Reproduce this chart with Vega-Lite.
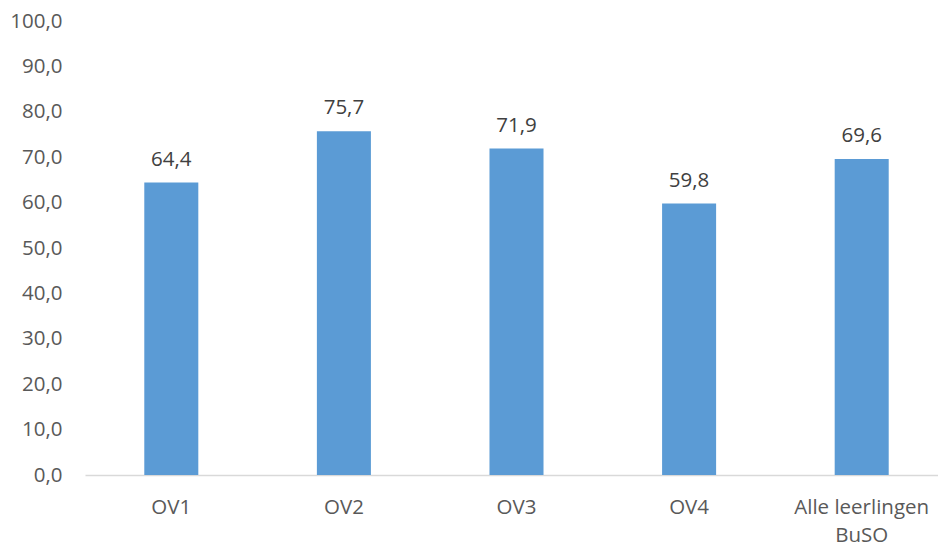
{
  "$schema": "https://vega.github.io/schema/vega-lite/v6.json",
  "autosize": "none",
  "padding": {"left": 85, "top": 21, "right": 0, "bottom": 73},
  "width": 863,
  "height": 454,
  "data": {"values": [
    {"groep": "OV1", "waarde": 64.4},
    {"groep": "OV2", "waarde": 75.7},
    {"groep": "OV3", "waarde": 71.9},
    {"groep": "OV4", "waarde": 59.8},
    {"groep": "Alle leerlingen BuSO", "waarde": 69.6}
  ]},
  "encoding": {
    "x": {
      "field": "groep", "type": "nominal", "sort": null,
      "scale": {"paddingInner": 0.687, "paddingOuter": 0.3435},
      "axis": {
        "title": null, "labelAngle": 0, "ticks": false, "tickSize": 0,
        "labelPadding": 22, "labelFontSize": 20.5, "labelFont": "Open Sans",
        "labelColor": "#595959", "domainColor": "#D9D9D9", "domainWidth": 1.5,
        "labelLineHeight": 28,
        "labelExpr": "datum.label == 'Alle leerlingen BuSO' ? ['Alle leerlingen', 'BuSO'] : datum.label"
      }
    },
    "y": {
      "field": "waarde", "type": "quantitative",
      "scale": {"domain": [0, 100], "nice": false},
      "axis": {
        "title": null, "values": [0, 10, 20, 30, 40, 50, 60, 70, 80, 90, 100],
        "format": ".1f", "domain": false, "ticks": false, "grid": false,
        "labelPadding": 23, "labelFontSize": 20.5, "labelFont": "Open Sans",
        "labelColor": "#595959"
      }
    }
  },
  "layer": [
    {"mark": {"type": "bar", "color": "#5B9BD5"}},
    {
      "mark": {"type": "text", "baseline": "alphabetic", "dy": -17, "fontSize": 20.5, "font": "Open Sans", "color": "#404040"},
      "encoding": {"text": {"field": "waarde", "type": "quantitative", "format": ".1f"}}
    }
  ],
  "config": {
    "view": {"stroke": null},
    "locale": {"number": {"decimal": ",", "thousands": ".", "grouping": [3], "currency": ["€", ""]}}
  }
}
